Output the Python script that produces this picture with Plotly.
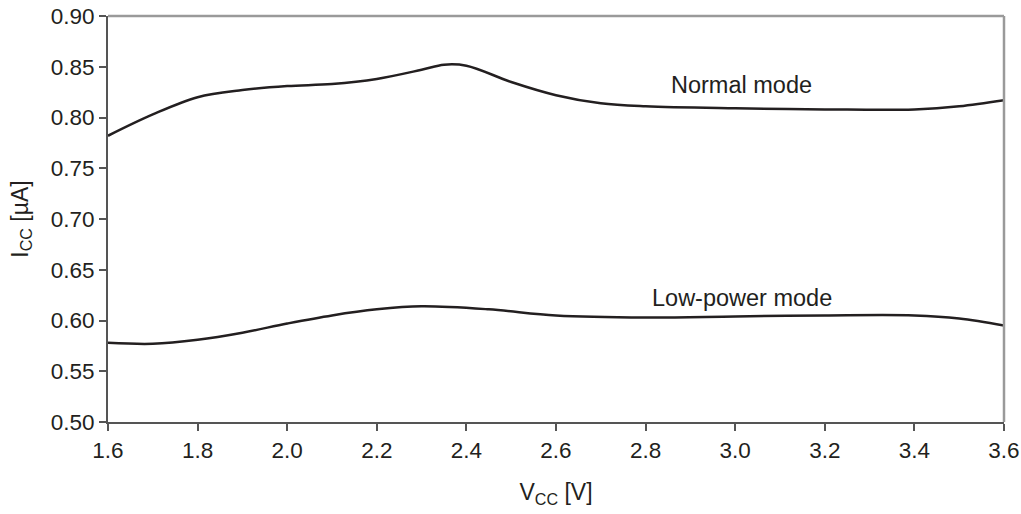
import plotly.graph_objects as go

# supply voltage [V]
vcc_normal = [1.6, 1.7, 1.8, 1.9, 2.0, 2.1, 2.2, 2.3, 2.35, 2.4, 2.5, 2.6, 2.7, 2.8, 3.0, 3.2, 3.4, 3.5, 3.6]
icc_normal = [0.782, 0.803, 0.820, 0.827, 0.831, 0.833, 0.838, 0.847, 0.852, 0.851, 0.835, 0.822, 0.814, 0.811, 0.809, 0.808, 0.808, 0.811, 0.817]

vcc_low = [1.6, 1.7, 1.8, 1.9, 2.0, 2.1, 2.2, 2.3, 2.45, 2.6, 2.8, 3.0, 3.2, 3.4, 3.5, 3.6]
icc_low = [0.578, 0.577, 0.581, 0.588, 0.597, 0.605, 0.611, 0.614, 0.611, 0.605, 0.603, 0.604, 0.605, 0.605, 0.602, 0.595]

x_ticks = [1.6, 1.8, 2.0, 2.2, 2.4, 2.6, 2.8, 3.0, 3.2, 3.4, 3.6]
y_ticks = [0.50, 0.55, 0.60, 0.65, 0.70, 0.75, 0.80, 0.85, 0.90]

line_col = '#231f20'
font_fam = 'Liberation Sans, Arial, sans-serif'

fig = go.Figure()

fig.add_trace(go.Scatter(
    x=vcc_normal, y=icc_normal, mode='lines',
    line=dict(color=line_col, width=2.5, shape='spline', smoothing=1.0),
    showlegend=False
))
fig.add_trace(go.Scatter(
    x=vcc_low, y=icc_low, mode='lines',
    line=dict(color=line_col, width=2.5, shape='spline', smoothing=1.0),
    showlegend=False
))

# curve labels
fig.add_annotation(x=3.013, y=0.832, text='Normal mode', showarrow=False,
                   font=dict(size=23.5, color=line_col, family=font_fam))
fig.add_annotation(x=3.015, y=0.622, text='Low-power mode', showarrow=False,
                   font=dict(size=23.5, color=line_col, family=font_fam))

# lighter top / right border
fig.add_shape(type='line', xref='paper', yref='paper', x0=0, x1=1, y0=1, y1=1,
              line=dict(color='#9a9a9a', width=2.5))
fig.add_shape(type='line', xref='paper', yref='paper', x0=1, x1=1, y0=0, y1=1,
              line=dict(color='#9a9a9a', width=2.5))

fig.update_layout(
    width=1021,
    height=514,
    plot_bgcolor='white',
    paper_bgcolor='white',
    font=dict(family=font_fam, size=22, color=line_col),
    margin=dict(l=108, r=17, t=16, b=92),
    xaxis=dict(
        range=[1.6, 3.6],
        tickvals=x_ticks,
        ticktext=['%.1f' % v for v in x_ticks],
        tickfont=dict(size=22.5),
        ticks='outside', ticklen=7, tickcolor='#555555', tickwidth=1.5,
        showgrid=False, zeroline=False, automargin=False,
        showline=True, linecolor='#555555', linewidth=2,
        title=dict(text='V<sub>CC</sub> [V]', standoff=22, font=dict(size=23)),
    ),
    yaxis=dict(
        range=[0.50, 0.90],
        tickvals=y_ticks,
        ticktext=['%.2f' % v for v in y_ticks],
        tickfont=dict(size=22.5),
        ticks='outside', ticklen=7, tickcolor='#555555', tickwidth=1.5,
        showgrid=False, zeroline=False, automargin=False,
        showline=True, linecolor='#555555', linewidth=2,
        title=dict(text='I<sub>CC</sub> [µA]', standoff=16, font=dict(size=23)),
    ),
)

fig.write_html("out.html", config={'displayModeBar': False},
               post_script="document.body.style.margin='0';")
